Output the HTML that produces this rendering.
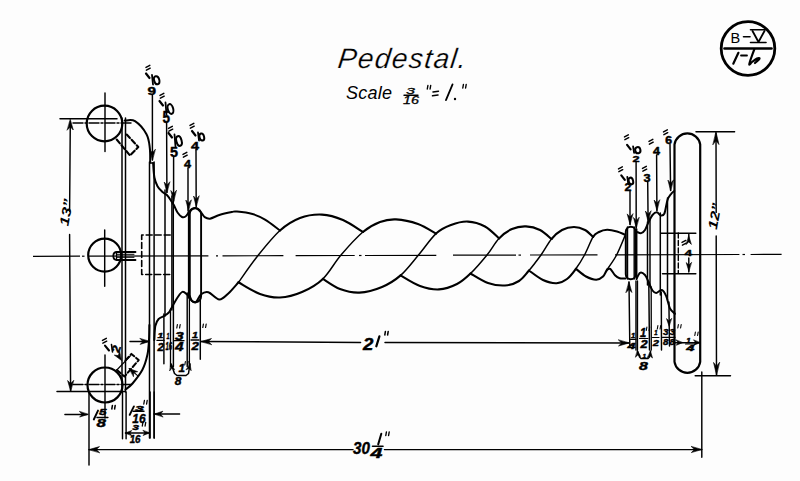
<!DOCTYPE html>
<html><head><meta charset="utf-8"><style>
html,body{margin:0;padding:0;background:#fdfdfd;}
svg{display:block;}
</style></head><body>
<svg width="800" height="481" viewBox="0 0 800 481">
<rect width="800" height="481" fill="#fdfdfd"/>
<g stroke="#000" fill="none" stroke-linecap="butt">
<line x1="33" y1="256.3" x2="80" y2="256.2" stroke-width="1.2" />
<line x1="82" y1="256.2" x2="84.5" y2="256.2" stroke-width="1.2" />
<line x1="88" y1="256.2" x2="208.4" y2="255.9" stroke-width="1.2" />
<line x1="216" y1="255.8" x2="218" y2="255.8" stroke-width="1.2" />
<line x1="222.5" y1="255.8" x2="283.4" y2="255.7" stroke-width="1.2" />
<line x1="295.6" y1="255.6" x2="354.7" y2="255.5" stroke-width="1.2" />
<line x1="359" y1="255.5" x2="361.5" y2="255.5" stroke-width="1.2" />
<line x1="365" y1="255.5" x2="436.3" y2="255.3" stroke-width="1.2" />
<line x1="453" y1="255.2" x2="516" y2="255.1" stroke-width="1.2" />
<line x1="518.5" y1="255.1" x2="521" y2="255.1" stroke-width="1.2" />
<line x1="530" y1="255" x2="597.5" y2="254.9" stroke-width="1.2" />
<line x1="615" y1="254.8" x2="739.4" y2="254.5" stroke-width="1.2" />
<line x1="742.5" y1="254.5" x2="745" y2="254.5" stroke-width="1.2" />
<line x1="750.6" y1="254.5" x2="781.6" y2="254.4" stroke-width="1.2" />
</g>
<g stroke="#000" fill="none" stroke-linecap="round" stroke-linejoin="round">
<g transform="matrix(1,0,-0.12,1,8.2,0)">
<text x="337" y="68" font-size="28" text-anchor="start" font-weight="normal" font-style="italic" font-family="Liberation Sans" fill="#000" textLength="128" lengthAdjust="spacing" stroke="#fdfdfd" stroke-width="0.25">Pedestal.</text>
</g>
<text x="346" y="99" font-size="18" text-anchor="start" font-weight="normal" font-style="italic" font-family="Liberation Sans" fill="#000" stroke="none" textLength="46" lengthAdjust="spacing">Scale</text>
<text x="406" y="94" font-size="9.7" font-weight="normal" font-style="italic" font-family="Liberation Sans" textLength="9" lengthAdjust="spacingAndGlyphs" fill="#000" stroke="#000" stroke-width="0.3">3</text>
<line x1="404" y1="95.3" x2="418" y2="95.3" stroke-width="1.4" />
<text x="403" y="104.4" font-size="10.9" font-weight="normal" font-style="italic" font-family="Liberation Sans" textLength="16" lengthAdjust="spacingAndGlyphs" fill="#000" stroke="#000" stroke-width="0.3">16</text>
<line x1="427.9" y1="85.5" x2="427.3" y2="89" stroke-width="1.4" />
<line x1="430.7" y1="85.5" x2="430.1" y2="89" stroke-width="1.4" />
<line x1="433" y1="92" x2="438.5" y2="91.2" stroke-width="1.5" />
<line x1="432.5" y1="95.8" x2="438" y2="95" stroke-width="1.5" />
<line x1="446" y1="100" x2="452.5" y2="84.5" stroke-width="1.9" />
<circle cx="455" cy="99" r="1.2" fill="#000" stroke="none"/>
<line x1="463.4" y1="84.5" x2="462.8" y2="88" stroke-width="1.4" />
<line x1="466.2" y1="84.5" x2="465.6" y2="88" stroke-width="1.4" />
<circle cx="748" cy="48.5" r="26.8" stroke-width="2.8"/>
<line x1="724.5" y1="48.5" x2="771.5" y2="48.5" stroke-width="2.6" />
<text x="730.5" y="43" font-size="14.5" text-anchor="start" font-weight="normal" font-style="normal" font-family="Liberation Sans" fill="#000" stroke="none" >B</text>
<line x1="743.5" y1="36.8" x2="750" y2="36.8" stroke-width="1.6" />
<path d="M752.5 31 L758.5 42 L764.5 31" stroke-width="1.8"/>
<line x1="750.5" y1="29.8" x2="766" y2="29.8" stroke-width="1.6" />
<line x1="750.5" y1="42.5" x2="766" y2="42.5" stroke-width="1.6" />
<line x1="733.3" y1="63.7" x2="738.4" y2="52.8" stroke-width="2.2" />
<line x1="741" y1="55.5" x2="747" y2="55.5" stroke-width="1.8" />
<path d="M754.4 49.2 C753.9 50.5 752.4 54.5 751.5 57 C750.6 59.5 749.2 63.7 749.3 64.5 C749.4 65.3 750.7 63 752 62 C753.3 61 755.8 59.1 757 58.5 C758.2 57.9 759.8 57.9 759.5 58.6 C759.2 59.4 755.8 62.3 755 63" stroke-width="2.2"/>
<circle cx="104.5" cy="123.5" r="17.8" stroke-width="2.2"/>
<circle cx="104.7" cy="255.1" r="16.5" stroke-width="2.2"/>
<circle cx="105" cy="385" r="17.5" stroke-width="2.2"/>
<line x1="105" y1="93" x2="105" y2="151.5" stroke-width="1.45" />
<line x1="104.7" y1="230" x2="104.7" y2="286.3" stroke-width="1.45" />
<line x1="105" y1="355" x2="105" y2="418" stroke-width="1.45" />
<line x1="73" y1="123" x2="131" y2="123" stroke-width="1.45" stroke-dasharray="10 2 2 2"/>
<line x1="73" y1="384.5" x2="131" y2="384.5" stroke-width="1.45" stroke-dasharray="10 2 2 2"/>
<line x1="60" y1="118.8" x2="117" y2="118.8" stroke-width="1.45" />
<line x1="57" y1="391.4" x2="125" y2="391.4" stroke-width="1.45" />
<line x1="70.3" y1="122" x2="69.6" y2="211.3" stroke-width="1.45" />
<line x1="69.6" y1="234.5" x2="70.6" y2="391" stroke-width="1.45" />
<path d="M70.3 119.5 L73.3 130 L70.3 126.8 L67.3 130Z" fill="#000" stroke="#000" stroke-width="0.6"/>
<path d="M70.6 391 L67.6 380.5 L70.6 383.6 L73.6 380.5Z" fill="#000" stroke="#000" stroke-width="0.6"/>
<text x="72.2" y="231" font-size="13" font-weight="bold" font-style="italic" font-family="Liberation Sans" transform="rotate(-80 67.5 231)" textLength="27" lengthAdjust="spacingAndGlyphs" fill="#000" stroke="none">13&#8221;</text>
<line x1="122" y1="118" x2="122" y2="392" stroke-width="1.5" />
<line x1="125.5" y1="118" x2="125.5" y2="392" stroke-width="1.5" />
<path d="M124.7 120.6 C126.4 120.7 131.4 118.9 135 121.2 C138.6 123.5 144 129.7 146.5 134.2 C149 138.7 149.2 143.3 149.8 148 C150.4 152.7 150.1 160 150.2 162.4" stroke-width="2.0"/>
<line x1="150.2" y1="163.1" x2="153.1" y2="163.1" stroke-width="1.5" />
<path d="M125.5 389.5 C126.7 388.5 129.7 386.8 132.5 383.5 C135.3 380.2 139.9 374.6 142.4 369.8 C144.9 365 146.3 359.8 147.4 354.8 C148.5 349.8 148.7 345 149 340 C149.3 335 149.3 327.5 149.4 325" stroke-width="2.0"/>
<line x1="149.5" y1="162" x2="149.5" y2="438" stroke-width="1.5" />
<line x1="154.1" y1="162" x2="154.1" y2="438" stroke-width="1.5" />
<path d="M135.5 252 H117 Q113.3 252 113.3 256 Q113.3 260 117 260 H135.5" stroke-width="1.8"/>
<line x1="116.5" y1="254.3" x2="134" y2="254.3" stroke-width="1.0" />
<line x1="116.5" y1="257.3" x2="134" y2="257.3" stroke-width="1.0" />
<line x1="116.5" y1="252" x2="116.5" y2="260" stroke-width="1.3" />
<path d="M116.7 139.5 L130 155.5 L138.3 147 L126.7 134.5" stroke-width="2.1" stroke-dasharray="5 2.5"/>
<path d="M117 370 L124.5 376.5 L138.7 360.1 L131.4 353.9 L124 362" stroke-width="2" stroke-dasharray="5 2.5"/>
<line x1="116.8" y1="370" x2="130.3" y2="356" stroke-width="1.1" />
<path d="M129.3 368.5 L137.7 371.7 L133.7 372.4 L133.5 376.4Z" fill="#000" stroke="#000" stroke-width="0.6"/>
<line x1="129.3" y1="368.5" x2="137.6" y2="375.7" stroke-width="1.1" />
<path d="M170.2 235 H141.7 V274.5 H170.2" stroke-width="1.6" stroke-dasharray="6 3"/>
<path d="M153.1 163.1 C153.3 165.5 153.7 173.6 154.4 177.5 C155.1 181.4 156.2 183.8 157.5 186.2 C158.8 188.7 160.9 190.4 162.5 191.9 C164.1 193.4 165.6 193.7 166.9 195 C168.2 196.3 169.5 198.3 170.6 200 C171.7 201.7 172.6 202.9 173.8 205 C174.9 207.1 176.1 210.5 177.5 212.5 C178.9 214.5 180.7 216.3 182 217 C183.3 217.7 184.4 217.2 185.5 216.5 C186.6 215.8 188.1 213.2 188.6 212.5" stroke-width="2.0"/>
<path d="M188.6 212.5 C189.2 211.9 190.7 209.7 192 209 C193.3 208.3 194.9 207.7 196.4 208.3 C197.9 208.9 199.7 211 201.1 212.5 C202.5 214 203.2 216.1 204.7 217.1 C206.2 218.1 207.6 219 210 218.7 C212.4 218.3 215.7 216.1 219.3 215 C222.9 213.9 228.9 212.6 231.8 212 C234.8 211.4 233.6 211.3 237 211.6 C240.4 211.9 247.8 212.7 252.5 214 C257.2 215.3 260.4 216.9 265 219.7 C269.6 222.4 277.5 228.7 280 230.5" stroke-width="2.0"/>
<path d="M154.3 340 C154.5 337.7 154.6 329.5 155.3 326 C156 322.5 157.3 320.4 158.8 318.8 C160.2 317.1 162.1 317.3 163.8 316.2 C165.4 315.2 167.3 314.2 168.8 312.5 C170.2 310.8 171 308.8 172.5 306.2 C174 303.8 175.8 299.9 177.5 297.5 C179.2 295.1 180.8 292.3 182.5 291.9 C184.2 291.5 186.3 294.1 187.5 295 C188.7 295.9 189.3 297.1 189.7 297.5" stroke-width="2.0"/>
<path d="M189.7 296 C190.1 296.8 190.9 300 192 301 C193.1 302 194.5 303.2 196 302.1 C197.5 301 199 296 201.1 294.3 C203.2 292.6 205.4 291.3 208.4 292.2 C211.4 293.1 215.9 299.3 219.3 299.5 C222.7 299.7 225.4 296.1 228.6 293.2 C231.8 290.3 236.8 284.1 238.5 282.3" stroke-width="2.0"/>
<rect x="189.8" y="208.3" width="11.3" height="93.8" rx="5.6" stroke-width="1.9"/>
<line x1="165" y1="190" x2="165" y2="316" stroke-width="1.5" />
<line x1="171.9" y1="196" x2="171.9" y2="310" stroke-width="1.5" />
<line x1="173.3" y1="199" x2="173.3" y2="307" stroke-width="1.45" />
<line x1="188.6" y1="212" x2="188.6" y2="298" stroke-width="1.45" />
<path d="M238.5 282.3 C241.8 277.8 251.5 263.6 258.4 255 C265.3 246.4 273.1 236.7 280 230.5" stroke-width="1.5"/>
<path d="M280 230.5 C286.9 224.3 293 220.7 300 218 C307 215.3 314.8 214.3 322 214.6 C329.2 214.9 336.2 217.1 343 220 C349.8 222.9 359.6 230 362.9 232" stroke-width="2.1"/>
<path d="M238.5 282.3 C242.1 284.2 253.1 291.5 260 294 C266.9 296.5 273 297.8 280 297.5 C287 297.2 294.9 295.1 302 292 C309.1 288.9 316.4 285.1 322.9 278.9" stroke-width="2.1"/>
<path d="M322.9 278.9 C329.4 272.7 334.3 262.8 341 255 C347.7 247.2 356.4 237.5 362.9 232" stroke-width="1.5"/>
<path d="M362.9 232 C369.4 226.5 374.5 224.1 380 222 C385.5 219.9 389.7 219.1 396 219.4 C402.3 219.7 411.3 221.6 418 224 C424.7 226.4 433 232 436 233.6" stroke-width="2.1"/>
<path d="M322.9 278.9 C325.8 280.6 333.9 286.7 340 289 C346.1 291.3 352.4 292.9 359.4 292.6 C366.4 292.3 375.1 289.9 382 287 C388.9 284.1 394.5 280.7 400.6 275.4" stroke-width="2.1"/>
<path d="M400.6 275.4 C406.7 270.1 412.6 262 418.5 255 C424.4 248 430.6 238.6 436 233.6" stroke-width="1.5"/>
<path d="M436 233.6 C441.4 228.6 445.7 227 451 225 C456.3 223 462.3 221.3 468 221.6 C473.7 221.8 479.8 223.7 485 226.5 C490.2 229.3 496.7 236.4 499 238.4" stroke-width="2.1"/>
<path d="M400.6 275.4 C403.8 277.2 413.6 283.7 420 286 C426.4 288.3 432.8 289.7 439 289.4 C445.2 289.1 451.8 286.6 457 284 C462.2 281.4 465.5 278.3 470.5 273.5" stroke-width="2.1"/>
<path d="M470.5 273.5 C475.5 268.7 482.2 260.9 487 255 C491.8 249.2 494.8 242.7 499 238.4" stroke-width="1.5"/>
<path d="M499 238.4 C503.2 234.1 507.5 231 512 229 C516.5 227 521.3 226.2 526 226.4 C530.7 226.6 535.8 227.9 540 230 C544.2 232.1 549.6 237.5 551.5 239" stroke-width="2.1"/>
<path d="M470.5 273.5 C473.4 275.1 482.2 281 488 283 C493.8 285 499.8 285.8 505 285.5 C510.2 285.2 515 283.5 519 281 C523 278.5 525.3 274.8 529 270.5" stroke-width="2.1"/>
<path d="M529 270.5 C532.7 266.2 537.2 260.2 541 255 C544.8 249.8 548 243.2 551.5 239" stroke-width="1.5"/>
<path d="M551.5 239 C555 234.8 558.2 232 562 230 C565.8 228 570.2 227 574 227 C577.8 227 581.8 228.3 585 230 C588.2 231.7 591.8 235.8 593.1 236.9" stroke-width="2.1"/>
<path d="M529 270.5 C531.3 272.1 538.4 277.9 543 280 C547.6 282.1 552.6 283.4 556.6 283.2 C560.6 283 563.8 281.4 567 279 C570.2 276.6 573 272.8 575.9 268.8" stroke-width="2.1"/>
<path d="M575.9 268.8 C578.8 264.8 581.6 260.3 584.5 255 C587.4 249.7 590.7 240.7 593.1 236.9" stroke-width="1.5"/>
<path d="M593.1 236.9 C595.5 233.1 596.7 233.2 599 232 C601.3 230.8 604.1 229.9 607.1 229.8 C610.1 229.7 614.1 230.7 617 231.5 C619.9 232.3 623.2 234 624.5 234.5" stroke-width="2.1"/>
<path d="M575.9 268.8 C577.6 270.1 582.6 274.7 586 276.5 C589.4 278.3 593.4 279.7 596.2 279.7 C599 279.7 601.2 278.2 603 276.5 C604.8 274.8 604.8 273.2 607.1 269.6" stroke-width="2.1"/>
<path d="M607.1 269.6 C609.4 266 613.6 260.7 616.6 255 C619.6 249.3 623.8 238.6 625.2 235.3" stroke-width="1.5"/>
<path d="M607.1 269.6 C607.6 269.5 609 268 610.3 268.9 C611.6 269.8 613.4 273.6 615 275.2 C616.6 276.8 618 277.8 619.7 278.3 C621.5 278.9 624.5 278.5 625.5 278.5" stroke-width="2.0"/>
<rect x="625.8" y="226.7" width="10" height="52.5" rx="5" stroke-width="2"/>
<line x1="627.5" y1="227" x2="627.5" y2="279" stroke-width="1.45" />
<line x1="634.2" y1="227" x2="634.2" y2="279" stroke-width="1.45" />
<line x1="636.7" y1="229" x2="636.7" y2="279" stroke-width="1.5" />
<path d="M636.9 231.9 C637.6 232.1 639.9 233.4 641.2 233.1 C642.6 232.8 643.9 231.7 645 230 C646.1 228.3 646.9 225.6 648.1 223.1 C649.4 220.6 651 216.8 652.5 215 C654 213.2 655.5 212.2 656.9 212.3 C658.2 212.4 659.4 215.2 660.6 215.4 C661.9 215.6 663.2 216.1 664.4 213.5 C665.5 210.9 666.4 203.3 667.5 200 C668.6 196.7 670.1 195.2 671.2 193.8 C672.4 192.2 673.8 191.5 674.3 191" stroke-width="2.0"/>
<path d="M636.5 279 C637.1 278 638.6 273.5 640 272.8 C641.4 272.1 643.5 273.4 645 275 C646.5 276.6 647.5 279.9 648.8 282.5 C650 285.1 651.2 288.8 652.5 290.5 C653.8 292.2 654.7 293.1 656.2 293 C657.8 292.9 660.2 289.5 661.9 290 C663.6 290.5 664.9 293.2 666.2 296.2 C667.6 299.3 668.5 305.6 670 308.5 C671.5 311.4 674.2 312.9 675 313.8" stroke-width="2.0"/>
<line x1="647.5" y1="222" x2="647.5" y2="285" stroke-width="1.5" />
<line x1="650" y1="218" x2="650" y2="287" stroke-width="1.45" />
<line x1="660.3" y1="213" x2="660.3" y2="295" stroke-width="1.5" />
<line x1="667.5" y1="198" x2="667.5" y2="300" stroke-width="1.5" />
<line x1="660.8" y1="233.3" x2="695.8" y2="233.3" stroke-width="1.5" />
<line x1="662.5" y1="273.7" x2="695.8" y2="273.7" stroke-width="1.5" />
<line x1="678.3" y1="233" x2="678.3" y2="273" stroke-width="1.4" stroke-dasharray="5 2.5"/>
<line x1="688.8" y1="234" x2="688.8" y2="240" stroke-width="1.45" />
<line x1="688.8" y1="258" x2="688.8" y2="272" stroke-width="1.45" />
<path d="M688.8 236 L691.4 244.4 L688.8 241.9 L686.2 244.4Z" fill="#000" stroke="#000" stroke-width="0.6"/>
<path d="M688.8 271 L686.2 262.6 L688.8 265.1 L691.4 262.6Z" fill="#000" stroke="#000" stroke-width="0.6"/>
<line x1="682" y1="242.4" x2="685.8" y2="240.4" stroke-width="1.4" />
<line x1="682.4" y1="245.2" x2="686.2" y2="243.2" stroke-width="1.4" />
<text x="684.4" y="256" font-size="9.1" font-weight="bold" font-style="normal" font-family="Liberation Sans" textLength="7.6" lengthAdjust="spacingAndGlyphs" fill="#000" stroke="#000" stroke-width="0.45">4</text>
<path d="M674.5 313 V144.5 A13 13 0 0 1 700.2 144.5 V361.8 A13 13 0 0 1 674.5 361.8 V313" stroke-width="2.2"/>
<line x1="696" y1="131.7" x2="734.6" y2="131.7" stroke-width="1.45" />
<line x1="695.2" y1="375.8" x2="730.5" y2="375.8" stroke-width="1.45" />
<line x1="716" y1="133" x2="716.2" y2="212.4" stroke-width="1.45" />
<line x1="716.2" y1="236" x2="716.5" y2="375" stroke-width="1.45" />
<path d="M716 132 L719 144.6 L716 140.8 L713 144.6Z" fill="#000" stroke="#000" stroke-width="0.6"/>
<path d="M716.5 375 L713.5 362.4 L716.5 366.2 L719.5 362.4Z" fill="#000" stroke="#000" stroke-width="0.6"/>
<text x="720.7" y="234.5" font-size="13" font-weight="bold" font-style="italic" font-family="Liberation Sans" transform="rotate(-80 716 234.5)" textLength="26.5" lengthAdjust="spacingAndGlyphs" fill="#000" stroke="none">12&#8221;</text>
<line x1="701.8" y1="372" x2="701.8" y2="457.3" stroke-width="1.45" />
<line x1="670" y1="144" x2="670.6" y2="190.6" stroke-width="1.45" />
<path d="M670.6 190.6 L667.9 180.1 L670.6 183.2 L673.4 180.1Z" fill="#000" stroke="#000" stroke-width="0.6"/>
<line x1="656.6" y1="155" x2="656.9" y2="210.5" stroke-width="1.45" />
<path d="M656.9 210.5 L654.1 200 L656.9 203.2 L659.6 200Z" fill="#000" stroke="#000" stroke-width="0.6"/>
<line x1="647.7" y1="181" x2="648.1" y2="221.5" stroke-width="1.45" />
<path d="M648.1 221.5 L645.4 211 L648.1 214.2 L650.9 211Z" fill="#000" stroke="#000" stroke-width="0.6"/>
<line x1="630" y1="191" x2="630" y2="224.4" stroke-width="1.45" />
<path d="M630 224.4 L627.2 213.9 L630 217.1 L632.8 213.9Z" fill="#000" stroke="#000" stroke-width="0.6"/>
<line x1="636.1" y1="162" x2="636.2" y2="228" stroke-width="1.45" />
<path d="M636.2 228 L633.5 217.5 L636.2 220.7 L639 217.5Z" fill="#000" stroke="#000" stroke-width="0.6"/>
<line x1="663.5" y1="131.9" x2="667.3" y2="129.9" stroke-width="1.5" />
<line x1="663.9" y1="134.7" x2="667.7" y2="132.7" stroke-width="1.5" />
<text x="665.2" y="144" font-size="10.2" font-weight="bold" font-style="normal" font-family="Liberation Sans" textLength="6.8" lengthAdjust="spacingAndGlyphs" fill="#000" stroke="#000" stroke-width="0.45">6</text>
<line x1="649" y1="141.4" x2="652.8" y2="139.4" stroke-width="1.5" />
<line x1="649.4" y1="144.2" x2="653.2" y2="142.2" stroke-width="1.5" />
<text x="653" y="155" font-size="10.3" font-weight="bold" font-style="normal" font-family="Liberation Sans" textLength="7" lengthAdjust="spacingAndGlyphs" fill="#000" stroke="#000" stroke-width="0.45">4</text>
<line x1="642.5" y1="168.4" x2="646.3" y2="166.4" stroke-width="1.5" />
<line x1="642.9" y1="171.2" x2="646.7" y2="169.2" stroke-width="1.5" />
<text x="643.4" y="181.5" font-size="10.8" font-weight="bold" font-style="normal" font-family="Liberation Sans" textLength="7.1" lengthAdjust="spacingAndGlyphs" fill="#000" stroke="#000" stroke-width="0.45">3</text>
<line x1="624.5" y1="136.9" x2="628.3" y2="134.9" stroke-width="1.5" />
<line x1="624.9" y1="139.7" x2="628.7" y2="137.7" stroke-width="1.5" />
<line x1="627.1" y1="144.9" x2="630.6" y2="149.4" stroke-width="2.2" />
<line x1="633.1" y1="146.4" x2="634.1" y2="152.9" stroke-width="1.8" />
<ellipse cx="637.8" cy="150.2" rx="2.6" ry="3.1" stroke-width="2" transform="rotate(-15 637.8 150.2)"/>
<text x="632.4" y="162" font-size="9.9" font-weight="bold" font-style="normal" font-family="Liberation Sans" textLength="7.1" lengthAdjust="spacingAndGlyphs" fill="#000" stroke="#000" stroke-width="0.45">2</text>
<line x1="618.5" y1="168.9" x2="622.3" y2="166.9" stroke-width="1.5" />
<line x1="618.9" y1="171.7" x2="622.7" y2="169.7" stroke-width="1.5" />
<line x1="621.3" y1="175.4" x2="624.8" y2="179.9" stroke-width="2.2" />
<line x1="627.3" y1="176.9" x2="628.3" y2="184.1" stroke-width="1.8" />
<ellipse cx="630.9" cy="181" rx="2.2" ry="3.4" stroke-width="2" transform="rotate(-15 630.9 181)"/>
<text x="624.5" y="190.5" font-size="11.7" font-weight="bold" font-style="normal" font-family="Liberation Sans" textLength="7" lengthAdjust="spacingAndGlyphs" fill="#000" stroke="#000" stroke-width="0.45">2</text>
<line x1="152.4" y1="95" x2="152.4" y2="160" stroke-width="1.45" />
<path d="M152.4 160 L149.7 149.5 L152.4 152.7 L155.2 149.5Z" fill="#000" stroke="#000" stroke-width="0.6"/>
<line x1="166.6" y1="123" x2="166.9" y2="192.5" stroke-width="1.45" />
<path d="M166.9 192.5 L164.2 182 L166.9 185.2 L169.7 182Z" fill="#000" stroke="#000" stroke-width="0.6"/>
<line x1="173.6" y1="156" x2="173.6" y2="201" stroke-width="1.45" />
<path d="M173.6 201 L170.8 190.5 L173.6 193.7 L176.3 190.5Z" fill="#000" stroke="#000" stroke-width="0.6"/>
<line x1="188" y1="168" x2="188" y2="211" stroke-width="1.45" />
<path d="M188.5 210.6 L185.8 200.1 L188.5 203.2 L191.2 200.1Z" fill="#000" stroke="#000" stroke-width="0.6"/>
<line x1="196" y1="150" x2="196.2" y2="206.5" stroke-width="1.45" />
<path d="M196.2 206.5 L193.5 196 L196.2 199.2 L199 196Z" fill="#000" stroke="#000" stroke-width="0.6"/>
<line x1="146" y1="67.4" x2="149.8" y2="65.4" stroke-width="1.5" />
<line x1="146.4" y1="70.2" x2="150.2" y2="68.2" stroke-width="1.5" />
<line x1="146" y1="73.5" x2="149.5" y2="78" stroke-width="2.2" />
<line x1="152" y1="75" x2="153" y2="84.5" stroke-width="1.8" />
<ellipse cx="156.7" cy="80.2" rx="2.6" ry="4.1" stroke-width="2" transform="rotate(-15 156.7 80.2)"/>
<text x="147.5" y="95" font-size="11.5" font-weight="bold" font-style="normal" font-family="Liberation Sans" textLength="8.5" lengthAdjust="spacingAndGlyphs" fill="#000" stroke="#000" stroke-width="0.45">9</text>
<line x1="160" y1="95.4" x2="163.8" y2="93.4" stroke-width="1.5" />
<line x1="160.4" y1="98.2" x2="164.2" y2="96.2" stroke-width="1.5" />
<line x1="159.5" y1="101" x2="163" y2="105.5" stroke-width="2.2" />
<line x1="165.5" y1="102.5" x2="166.5" y2="114.5" stroke-width="1.8" />
<ellipse cx="170.5" cy="109" rx="2.7" ry="5" stroke-width="2" transform="rotate(-15 170.5 109)"/>
<text x="162.5" y="123.3" font-size="15.6" font-weight="bold" font-style="normal" font-family="Liberation Sans" textLength="7.5" lengthAdjust="spacingAndGlyphs" fill="#000" stroke="#000" stroke-width="0.45">5</text>
<line x1="168.5" y1="128.4" x2="172.3" y2="126.4" stroke-width="1.5" />
<line x1="168.9" y1="131.2" x2="172.7" y2="129.2" stroke-width="1.5" />
<line x1="168.5" y1="133" x2="172" y2="137.5" stroke-width="2.2" />
<line x1="174.5" y1="134.5" x2="175.5" y2="146.5" stroke-width="1.8" />
<ellipse cx="179" cy="141" rx="2.6" ry="5" stroke-width="2" transform="rotate(-15 179 141)"/>
<text x="170" y="157" font-size="15.2" font-weight="bold" font-style="normal" font-family="Liberation Sans" textLength="8" lengthAdjust="spacingAndGlyphs" fill="#000" stroke="#000" stroke-width="0.45">5</text>
<line x1="183" y1="154.4" x2="186.8" y2="152.4" stroke-width="1.5" />
<line x1="183.4" y1="157.2" x2="187.2" y2="155.2" stroke-width="1.5" />
<text x="184" y="168" font-size="11" font-weight="bold" font-style="normal" font-family="Liberation Sans" textLength="7" lengthAdjust="spacingAndGlyphs" fill="#000" stroke="#000" stroke-width="0.45">4</text>
<line x1="190" y1="125.4" x2="193.8" y2="123.4" stroke-width="1.5" />
<line x1="190.4" y1="128.2" x2="194.2" y2="126.2" stroke-width="1.5" />
<line x1="192" y1="131" x2="195.5" y2="135.5" stroke-width="2.2" />
<line x1="198" y1="132.5" x2="199" y2="140.5" stroke-width="1.8" />
<ellipse cx="201.8" cy="137" rx="2.3" ry="3.6" stroke-width="2" transform="rotate(-15 201.8 137)"/>
<text x="191" y="150" font-size="11" font-weight="bold" font-style="normal" font-family="Liberation Sans" textLength="8" lengthAdjust="spacingAndGlyphs" fill="#000" stroke="#000" stroke-width="0.45">4</text>
<line x1="201" y1="341.5" x2="360.6" y2="342.5" stroke-width="1.45" />
<line x1="385" y1="342.5" x2="629" y2="343" stroke-width="1.45" />
<path d="M201 341.5 L211.5 338.5 L208.3 341.5 L211.5 344.5Z" fill="#000" stroke="#000" stroke-width="0.6"/>
<path d="M629 343 L618.5 346 L621.6 343 L618.5 340Z" fill="#000" stroke="#000" stroke-width="0.6"/>
<text x="363.1" y="350" font-size="17.2" font-weight="bold" font-style="italic" font-family="Liberation Sans" textLength="10.4" lengthAdjust="spacingAndGlyphs" fill="#000" stroke="#000" stroke-width="0.45">2</text>
<line x1="376.3" y1="346.3" x2="379.4" y2="336.3" stroke-width="2.2" />
<line x1="385.4" y1="331.5" x2="384.8" y2="335" stroke-width="1.5" />
<line x1="388.2" y1="331.5" x2="387.6" y2="335" stroke-width="1.5" />
<line x1="130" y1="341.5" x2="148.7" y2="341.5" stroke-width="1.45" />
<path d="M149.5 341.5 L140.1 344.4 L142.9 341.5 L140.1 338.6Z" fill="#000" stroke="#000" stroke-width="0.6"/>
<line x1="89" y1="449.6" x2="353" y2="449.6" stroke-width="1.45" />
<line x1="384.4" y1="449.6" x2="701.8" y2="449.6" stroke-width="1.45" />
<path d="M89 449.6 L99.5 446.6 L96.3 449.6 L99.5 452.6Z" fill="#000" stroke="#000" stroke-width="0.6"/>
<path d="M701.8 449.6 L691.3 452.6 L694.4 449.6 L691.3 446.6Z" fill="#000" stroke="#000" stroke-width="0.6"/>
<line x1="89" y1="392.7" x2="89" y2="465" stroke-width="1.45" />
<text x="353.1" y="453.8" font-size="17.2" font-weight="bold" font-style="italic" font-family="Liberation Sans" textLength="16.9" lengthAdjust="spacingAndGlyphs" fill="#000" stroke="#000" stroke-width="0.45">30</text>
<line x1="378.2" y1="444.4" x2="381.3" y2="433.8" stroke-width="2" />
<line x1="372.5" y1="446.3" x2="383" y2="446.3" stroke-width="1.6" />
<text x="370.6" y="458.1" font-size="13.9" font-weight="bold" font-style="italic" font-family="Liberation Sans" textLength="11.9" lengthAdjust="spacingAndGlyphs" fill="#000" stroke="#000" stroke-width="0.45">4</text>
<line x1="386.4" y1="432" x2="385.8" y2="435.5" stroke-width="1.4" />
<line x1="389.2" y1="432" x2="388.6" y2="435.5" stroke-width="1.4" />
<line x1="64.9" y1="414.4" x2="87.2" y2="414.4" stroke-width="1.45" />
<path d="M88 414.4 L79.6 417.1 L82.1 414.4 L79.6 411.6Z" fill="#000" stroke="#000" stroke-width="0.6"/>
<line x1="93.8" y1="419.5" x2="98" y2="410.6" stroke-width="1.9" />
<text x="99" y="414.8" font-size="8.7" font-weight="bold" font-style="italic" font-family="Liberation Sans" textLength="7.5" lengthAdjust="spacingAndGlyphs" fill="#000" stroke="#000" stroke-width="0.45">5</text>
<line x1="97" y1="417.4" x2="107.9" y2="417.4" stroke-width="1.5" />
<text x="96.4" y="427.3" font-size="11.5" font-weight="bold" font-style="italic" font-family="Liberation Sans" textLength="9.4" lengthAdjust="spacingAndGlyphs" fill="#000" stroke="#000" stroke-width="0.45">8</text>
<line x1="112.4" y1="405.5" x2="111.8" y2="409" stroke-width="1.5" />
<line x1="115.2" y1="405.5" x2="114.6" y2="409" stroke-width="1.5" />
<line x1="122.5" y1="392" x2="122.5" y2="438.7" stroke-width="1.45" />
<line x1="126.1" y1="392" x2="126.1" y2="438.7" stroke-width="1.45" />
<line x1="150.1" y1="392" x2="150.1" y2="438" stroke-width="1.45" />
<line x1="154.2" y1="392" x2="154.2" y2="438" stroke-width="1.45" />
<line x1="154" y1="414" x2="179.6" y2="414" stroke-width="1.45" />
<path d="M154.5 414 L162.9 411.2 L160.4 414 L162.9 416.8Z" fill="#000" stroke="#000" stroke-width="0.6"/>
<line x1="129.7" y1="414.8" x2="133.9" y2="406.4" stroke-width="1.9" />
<text x="135" y="410.5" font-size="7.6" font-weight="bold" font-style="italic" font-family="Liberation Sans" textLength="8.8" lengthAdjust="spacingAndGlyphs" fill="#000" stroke="#000" stroke-width="0.45">3</text>
<line x1="133" y1="411.2" x2="144" y2="411.2" stroke-width="1.4" />
<text x="132.3" y="423.1" font-size="13.7" font-weight="bold" font-style="italic" font-family="Liberation Sans" textLength="13.2" lengthAdjust="spacingAndGlyphs" fill="#000" stroke="#000" stroke-width="0.45">16</text>
<line x1="144.4" y1="400.5" x2="143.8" y2="404" stroke-width="1.3" />
<line x1="147.2" y1="400.5" x2="146.6" y2="404" stroke-width="1.3" />
<line x1="125.4" y1="433" x2="149.4" y2="433" stroke-width="1.45" />
<path d="M125.4 433 L131.7 430.5 L129.8 433 L131.7 435.5Z" fill="#000" stroke="#000" stroke-width="0.6"/>
<path d="M149.4 433 L143.1 435.5 L145 433 L143.1 430.5Z" fill="#000" stroke="#000" stroke-width="0.6"/>
<text x="132.3" y="430.4" font-size="8.1" font-weight="bold" font-style="italic" font-family="Liberation Sans" textLength="6.7" lengthAdjust="spacingAndGlyphs" fill="#000" stroke="#000" stroke-width="0.45">3</text>
<line x1="142.9" y1="422.5" x2="142.3" y2="426" stroke-width="1.3" />
<line x1="145.7" y1="422.5" x2="145.1" y2="426" stroke-width="1.3" />
<text x="129.7" y="442.9" font-size="11.6" font-weight="bold" font-style="italic" font-family="Liberation Sans" textLength="10.8" lengthAdjust="spacingAndGlyphs" fill="#000" stroke="#000" stroke-width="0.45">16</text>
<line x1="102.5" y1="340.4" x2="106.3" y2="338.4" stroke-width="1.5" />
<line x1="102.9" y1="343.2" x2="106.7" y2="341.2" stroke-width="1.5" />
<line x1="105" y1="345.6" x2="109" y2="350.5" stroke-width="2.1" />
<line x1="111.5" y1="344.5" x2="112.5" y2="352" stroke-width="1.6" />
<text x="112.5" y="353" font-size="11.7" font-weight="bold" font-style="normal" font-family="Liberation Sans" textLength="7" lengthAdjust="spacingAndGlyphs" transform="rotate(-70 116 348.8)" fill="#000" stroke="#000" stroke-width="0.45">2</text>
<path d="M121.5 360.5 L114.3 355.1 L118.3 355.6 L119.6 351.7Z" fill="#000" stroke="#000" stroke-width="0.6"/>
<text x="157.4" y="338.2" font-size="8" font-weight="bold" font-style="italic" font-family="Liberation Sans" textLength="5.8" lengthAdjust="spacingAndGlyphs" fill="#000" stroke="#000" stroke-width="0.45">1</text>
<line x1="157" y1="340.4" x2="164" y2="340.4" stroke-width="1.3" />
<text x="157.4" y="350.6" font-size="11" font-weight="bold" font-style="italic" font-family="Liberation Sans" textLength="6.4" lengthAdjust="spacingAndGlyphs" fill="#000" stroke="#000" stroke-width="0.45">2</text>
<text x="166.5" y="339" font-size="9.1" font-weight="bold" font-style="italic" font-family="Liberation Sans" textLength="3" lengthAdjust="spacingAndGlyphs" fill="#000" stroke="#000" stroke-width="0.45">1</text>
<text x="165.5" y="350.3" font-size="10.1" font-weight="bold" font-style="italic" font-family="Liberation Sans" textLength="6.5" lengthAdjust="spacingAndGlyphs" fill="#000" stroke="#000" stroke-width="0.45">16</text>
<text x="175" y="339.7" font-size="10.1" font-weight="bold" font-style="italic" font-family="Liberation Sans" textLength="8.6" lengthAdjust="spacingAndGlyphs" fill="#000" stroke="#000" stroke-width="0.45">3</text>
<line x1="174.5" y1="340.7" x2="184" y2="340.7" stroke-width="1.3" />
<text x="175" y="351.3" font-size="13.1" font-weight="bold" font-style="italic" font-family="Liberation Sans" textLength="8.6" lengthAdjust="spacingAndGlyphs" fill="#000" stroke="#000" stroke-width="0.45">4</text>
<line x1="177.4" y1="324.5" x2="176.8" y2="328" stroke-width="1.2" />
<line x1="180.2" y1="324.5" x2="179.6" y2="328" stroke-width="1.2" />
<text x="192" y="338" font-size="9.7" font-weight="bold" font-style="italic" font-family="Liberation Sans" textLength="6" lengthAdjust="spacingAndGlyphs" fill="#000" stroke="#000" stroke-width="0.45">1</text>
<line x1="191" y1="340" x2="199" y2="340" stroke-width="1.3" />
<text x="191.6" y="350" font-size="11" font-weight="bold" font-style="italic" font-family="Liberation Sans" textLength="7.4" lengthAdjust="spacingAndGlyphs" fill="#000" stroke="#000" stroke-width="0.45">2</text>
<line x1="203.4" y1="324" x2="202.8" y2="327.5" stroke-width="1.2" />
<line x1="206.2" y1="324" x2="205.6" y2="327.5" stroke-width="1.2" />
<line x1="163.9" y1="314" x2="163.9" y2="363.7" stroke-width="1.45" />
<line x1="170.5" y1="309" x2="170.5" y2="366.6" stroke-width="1.3" />
<line x1="173.4" y1="305" x2="173.4" y2="366.6" stroke-width="1.45" />
<line x1="187.2" y1="293" x2="187.2" y2="366.6" stroke-width="1.45" />
<line x1="189.4" y1="296" x2="189.4" y2="366.6" stroke-width="1.3" />
<line x1="200.3" y1="296" x2="200.3" y2="359.3" stroke-width="1.45" />
<path d="M171.2 364 L174.5 373.5 L177 375.5 L186 375.5 L188.5 373.5 L190 364" stroke-width="1.5"/>
<path d="M171 364 L174.7 369.7 L171.9 368.3 L169.8 370.7Z" fill="#000" stroke="#000" stroke-width="0.6"/>
<path d="M190 364 L191.2 370.7 L189.1 368.3 L186.3 369.7Z" fill="#000" stroke="#000" stroke-width="0.6"/>
<text x="178.5" y="371.7" font-size="11.3" font-weight="bold" font-style="italic" font-family="Liberation Sans" textLength="6.5" lengthAdjust="spacingAndGlyphs" fill="#000" stroke="#000" stroke-width="0.45">1</text>
<line x1="185.4" y1="361.5" x2="184.8" y2="365" stroke-width="1.1" />
<line x1="188.2" y1="361.5" x2="187.6" y2="365" stroke-width="1.1" />
<text x="174.8" y="384.8" font-size="10.1" font-weight="bold" font-style="italic" font-family="Liberation Sans" textLength="6.6" lengthAdjust="spacingAndGlyphs" fill="#000" stroke="#000" stroke-width="0.45">8</text>
<text x="631" y="337.6" font-size="7" font-weight="bold" font-style="italic" font-family="Liberation Sans" textLength="4.3" lengthAdjust="spacingAndGlyphs" fill="#000" stroke="#000" stroke-width="0.45">1</text>
<line x1="630.5" y1="339.3" x2="636" y2="339.3" stroke-width="1.2" />
<text x="627.5" y="348.5" font-size="9" font-weight="bold" font-style="italic" font-family="Liberation Sans" textLength="8" lengthAdjust="spacingAndGlyphs" fill="#000" stroke="#000" stroke-width="0.45">4</text>
<text x="640" y="336.8" font-size="12.1" font-weight="bold" font-style="italic" font-family="Liberation Sans" textLength="6.2" lengthAdjust="spacingAndGlyphs" fill="#000" stroke="#000" stroke-width="0.45">1</text>
<line x1="646.9" y1="327" x2="646.3" y2="330.5" stroke-width="1.1" />
<line x1="649.7" y1="327" x2="649.1" y2="330.5" stroke-width="1.1" />
<line x1="639.5" y1="338.5" x2="648" y2="338.5" stroke-width="1.2" />
<text x="640.4" y="347.8" font-size="10.1" font-weight="bold" font-style="italic" font-family="Liberation Sans" textLength="7.1" lengthAdjust="spacingAndGlyphs" fill="#000" stroke="#000" stroke-width="0.45">2</text>
<text x="654.2" y="334.7" font-size="7" font-weight="bold" font-style="italic" font-family="Liberation Sans" textLength="3.3" lengthAdjust="spacingAndGlyphs" fill="#000" stroke="#000" stroke-width="0.45">1</text>
<line x1="657.9" y1="325.5" x2="657.3" y2="329" stroke-width="1.1" />
<line x1="660.7" y1="325.5" x2="660.1" y2="329" stroke-width="1.1" />
<line x1="652.5" y1="337.5" x2="659" y2="337.5" stroke-width="1.2" />
<text x="652.8" y="346.3" font-size="9" font-weight="bold" font-style="italic" font-family="Liberation Sans" textLength="6.2" lengthAdjust="spacingAndGlyphs" fill="#000" stroke="#000" stroke-width="0.45">2</text>
<text x="663" y="335.4" font-size="9.1" font-weight="bold" font-style="italic" font-family="Liberation Sans" textLength="5.5" lengthAdjust="spacingAndGlyphs" fill="#000" stroke="#000" stroke-width="0.45">3</text>
<line x1="662.5" y1="337.3" x2="668.5" y2="337.3" stroke-width="1.2" />
<text x="663" y="345" font-size="8.3" font-weight="bold" font-style="italic" font-family="Liberation Sans" textLength="5.5" lengthAdjust="spacingAndGlyphs" fill="#000" stroke="#000" stroke-width="0.45">8</text>
<text x="669.5" y="335.4" font-size="9.1" font-weight="bold" font-style="italic" font-family="Liberation Sans" textLength="5.5" lengthAdjust="spacingAndGlyphs" fill="#000" stroke="#000" stroke-width="0.45">3</text>
<line x1="669" y1="337.3" x2="675" y2="337.3" stroke-width="1.2" />
<text x="669.5" y="345" font-size="8.3" font-weight="bold" font-style="italic" font-family="Liberation Sans" textLength="5.5" lengthAdjust="spacingAndGlyphs" fill="#000" stroke="#000" stroke-width="0.45">8</text>
<line x1="678.4" y1="324.5" x2="677.8" y2="328" stroke-width="1.1" />
<line x1="681.2" y1="324.5" x2="680.6" y2="328" stroke-width="1.1" />
<line x1="629" y1="282" x2="629.8" y2="346.3" stroke-width="1.45" />
<line x1="636" y1="281" x2="636" y2="350" stroke-width="1.45" />
<line x1="637.5" y1="281" x2="637.5" y2="350" stroke-width="1.3" />
<line x1="648.8" y1="282" x2="649.5" y2="350" stroke-width="1.5" />
<line x1="651.2" y1="287" x2="651.3" y2="350" stroke-width="1.3" />
<line x1="661.3" y1="292" x2="661.5" y2="350" stroke-width="1.45" />
<line x1="668.9" y1="302" x2="669.5" y2="346" stroke-width="1.45" />
<path d="M669 326 L666.5 318.6 L669 320.9 L671.5 318.6Z" fill="#000" stroke="#000" stroke-width="0.6"/>
<path d="M629 282 L631.9 292.5 L629 289.4 L626.1 292.5Z" fill="#000" stroke="#000" stroke-width="0.6"/>
<line x1="675.5" y1="342.7" x2="700" y2="342.7" stroke-width="1.45" />
<path d="M682.5 342.7 L676.2 345.3 L678.1 342.7 L676.2 340.1Z" fill="#000" stroke="#000" stroke-width="0.6"/>
<path d="M700 342.7 L693.7 345.3 L695.6 342.7 L693.7 340.1Z" fill="#000" stroke="#000" stroke-width="0.6"/>
<text x="686.3" y="343.4" font-size="7" font-weight="bold" font-style="italic" font-family="Liberation Sans" textLength="4.5" lengthAdjust="spacingAndGlyphs" fill="#000" stroke="#000" stroke-width="0.45">1</text>
<line x1="695.4" y1="332" x2="694.8" y2="335.5" stroke-width="1.1" />
<line x1="698.2" y1="332" x2="697.6" y2="335.5" stroke-width="1.1" />
<line x1="685.5" y1="344" x2="695" y2="344" stroke-width="1.1" />
<text x="686.3" y="351.4" font-size="9" font-weight="bold" font-style="italic" font-family="Liberation Sans" textLength="8.2" lengthAdjust="spacingAndGlyphs" fill="#000" stroke="#000" stroke-width="0.45">4</text>
<path d="M637.5 351 L639.5 357 L641 358.5 L648 358.5 L649.5 357 L650.6 351" stroke-width="1.4"/>
<path d="M637.5 350.5 L640.6 356.5 L637.9 354.9 L635.6 357Z" fill="#000" stroke="#000" stroke-width="0.6"/>
<path d="M650.6 351.5 L652.5 358 L650.2 355.9 L647.5 357.5Z" fill="#000" stroke="#000" stroke-width="0.6"/>
<text x="642.6" y="358" font-size="6.1" font-weight="bold" font-style="italic" font-family="Liberation Sans" textLength="3.6" lengthAdjust="spacingAndGlyphs" fill="#000" stroke="#000" stroke-width="0.45">1</text>
<text x="638.9" y="369.6" font-size="11" font-weight="bold" font-style="italic" font-family="Liberation Sans" textLength="8.8" lengthAdjust="spacingAndGlyphs" fill="#000" stroke="#000" stroke-width="0.45">8</text>
</g>
</svg>
</body></html>
